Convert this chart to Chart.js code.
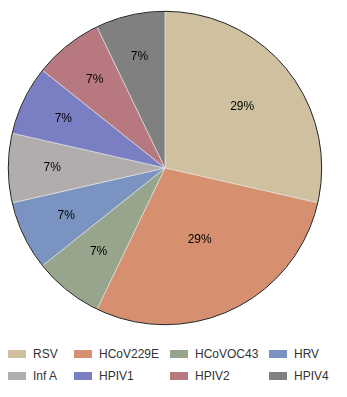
<!DOCTYPE html>
<html>
<head>
<meta charset="utf-8">
<script src="https://cdn.jsdelivr.net/npm/chart.js@4/dist/chart.umd.min.js"></script>
<style>
  html, body { margin: 0; padding: 0; background: #fff; }
  #wrap { position: relative; width: 347px; height: 397px; }
  #c { position: absolute; left: 0; top: 0; }
  #legend { position: absolute; left: 8px; top: 346px; display: grid;
    grid-template-columns: 66px 96px 99px 70px; row-gap: 6px;
    font-family: "Liberation Sans", Arial, sans-serif; font-size: 12px; color: #333; }
  .item { display: flex; align-items: center; height: 16px; }
  .box { width: 18px; height: 8px; margin-right: 7px; flex: none; }
</style>
</head>
<body>
<div id="wrap">
  <canvas id="c" width="347" height="340"></canvas>
  <div id="legend"></div>
</div>
<script>
const categories = ["RSV", "HCoV229E", "HCoVOC43", "HRV", "Inf A", "HPIV1", "HPIV2", "HPIV4"];
const counts = [4, 4, 1, 1, 1, 1, 1, 1];
const colors = ["#cfc19f", "#d6906f", "#97a58c", "#7b93c0", "#b1adac", "#7a7fc3", "#b77880", "#808080"];
const labelRadius = [0.63, 0.51, 0.68, 0.70, 0.72, 0.72, 0.72, 0.73];

const pctLabels = {
  id: 'pctLabels',
  afterDatasetsDraw(chart) {
    const ctx = chart.ctx;
    const meta = chart.getDatasetMeta(0);
    const data = chart.data.datasets[0].data;
    const total = data.reduce((a, b) => a + b, 0);
    ctx.save();
    const a0 = meta.data[0];
    ctx.beginPath();
    ctx.arc(a0.x, a0.y, a0.outerRadius, 0, Math.PI * 2);
    ctx.strokeStyle = '#222';
    ctx.lineWidth = 1;
    ctx.stroke();
    ctx.font = '12px "Liberation Sans", Arial, sans-serif';
    ctx.fillStyle = '#000';
    ctx.textAlign = 'center';
    ctx.textBaseline = 'middle';
    meta.data.forEach((arc, i) => {
      const mid = (arc.startAngle + arc.endAngle) / 2;
      const r = arc.outerRadius * labelRadius[i];
      const x = arc.x + Math.cos(mid) * r;
      const y = arc.y + Math.sin(mid) * r;
      ctx.fillText(Math.round(data[i] / total * 100) + '%', x, y);
    });
    ctx.restore();
  }
};

const chart = new Chart(document.getElementById('c'), {
  type: 'pie',
  data: {
    labels: categories,
    datasets: [{ data: counts, backgroundColor: colors, borderColor: '#e8e8e8', borderWidth: 0.6 }]
  },
  options: {
    responsive: false,
    animation: false,
    layout: { padding: { top: 11, bottom: 15, left: 0, right: 17 } },
    plugins: { legend: { display: false }, tooltip: { enabled: false } }
  },
  plugins: [pctLabels]
});

const legend = document.getElementById('legend');
chart.data.labels.forEach((lab, i) => {
  const it = document.createElement('div');
  it.className = 'item';
  const b = document.createElement('span');
  b.className = 'box';
  b.style.background = chart.data.datasets[0].backgroundColor[i];
  const t = document.createElement('span');
  t.textContent = lab;
  it.appendChild(b); it.appendChild(t);
  legend.appendChild(it);
});
</script>
</body>
</html>
